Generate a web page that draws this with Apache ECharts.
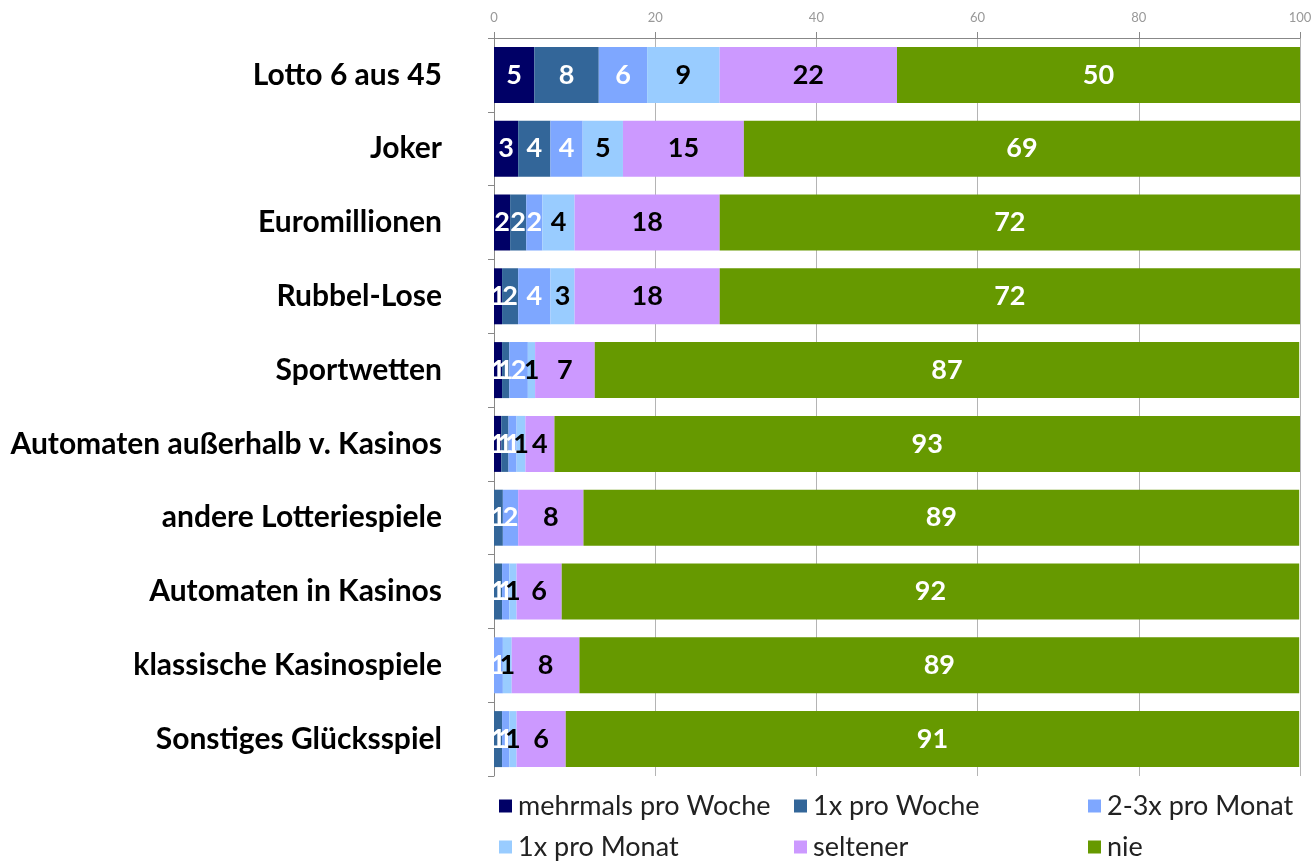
<!DOCTYPE html>
<html>
<head>
<meta charset="utf-8">
<script src="https://cdn.jsdelivr.net/npm/echarts@6/dist/echarts.min.js"></script>
<style>
  html, body { margin: 0; padding: 0; background: #fff; }
  #chart { width: 1316px; height: 862px; }
</style>
</head>
<body>
<div id="chart"></div>
<script>
// Kategorien von oben nach unten
var categories = ['Lotto 6 aus 45', 'Joker', 'Euromillionen', 'Rubbel-Lose', 'Sportwetten',
    'Automaten außerhalb v. Kasinos', 'andere Lotteriespiele', 'Automaten in Kasinos',
    'klassische Kasinospiele', 'Sonstiges Glücksspiel'];

// Anteile in Prozent, aus dem Bild geschätzt
var mehrmalsProWoche = [5, 3, 2, 1, 1.0, 0.9, 0, 0, 0, 0];
var einmalProWoche   = [8, 4, 2, 2, 0.9, 0.9, 1.1, 1.0, 0, 1.0];
var zweiDreiProMonat = [6, 4, 2, 4, 2.3, 1.0, 1.9, 0.9, 1.1, 0.9];
var einmalProMonat   = [9, 5, 4, 3, 0.9, 1.1, 0, 0.9, 1.1, 0.9];
var seltener         = [22, 15, 18, 18, 7.4, 3.6, 8.1, 5.6, 8.4, 6.1];
var nie              = [50, 69, 72, 72, 87.4, 92.5, 88.8, 91.5, 89.3, 91.0];

var xTicks = [0, 20, 40, 60, 80, 100];

var font = 'Lato, "Open Sans", sans-serif';

var seriesDefs = [
    { name: 'mehrmals pro Woche', data: mehrmalsProWoche, color: '#000066', text: '#fff' },
    { name: '1x pro Woche', data: einmalProWoche, color: '#336699', text: '#fff' },
    { name: '2-3x pro Monat', data: zweiDreiProMonat, color: '#7EA7FF', text: '#fff' },
    { name: '1x pro Monat', data: einmalProMonat, color: '#99CCFF', text: '#000' },
    { name: 'seltener', data: seltener, color: '#CC99FF', text: '#000' },
    { name: 'nie', data: nie, color: '#669900', text: '#fff' }
];

var chart = echarts.init(document.getElementById('chart'));

var series = seriesDefs.map(function (s) {
    return {
        name: s.name,
        type: 'bar',
        stack: 'total',
        barWidth: 56,
        itemStyle: { color: s.color },
        label: {
            show: true,
            position: 'inside',
            color: s.text,
            fontFamily: font,
            fontWeight: 'bold',
            fontSize: 27,
            formatter: function (p) {
                return p.value > 0 ? Math.round(p.value) : '';
            }
        },
        emphasis: { disabled: true },
        data: s.data
    };
});

// drei Spalten mit je zwei Einträgen
function legendColumn(left, names) {
    return {
        orient: 'vertical',
        left: left,
        top: 792,
        padding: 0,
        itemWidth: 13,
        itemHeight: 13,
        itemGap: 13,
        icon: 'rect',
        textStyle: { fontFamily: font, fontSize: 27, lineHeight: 28, color: '#222', padding: [0, 0, 0, 1] },
        data: names
    };
}

var option = {
    animation: false,
    grid: { left: 494, right: 16, top: 38, bottom: 86 },
    legend: [
        legendColumn(499, ['mehrmals pro Woche', '1x pro Monat']),
        legendColumn(794, ['1x pro Woche', 'seltener']),
        legendColumn(1088, ['2-3x pro Monat', 'nie'])
    ],
    xAxis: {
        type: 'value',
        position: 'top',
        min: xTicks[0],
        max: xTicks[xTicks.length - 1],
        interval: 20,
        axisLine: { show: true, lineStyle: { color: '#888' } },
        axisTick: { show: true, length: 6, lineStyle: { color: '#888' } },
        axisLabel: { color: '#999', fontFamily: font, fontSize: 13, margin: 14 },
        splitLine: { show: true, lineStyle: { color: '#b4b4b4' } }
    },
    yAxis: {
        type: 'category',
        inverse: true,
        data: categories,
        axisLine: { show: true, lineStyle: { color: '#888' } },
        axisTick: { show: true, length: 6, lineStyle: { color: '#888' } },
        axisLabel: { color: '#000', fontFamily: font, fontWeight: 'bold', fontSize: 30, margin: 52 }
    },
    series: series
};

option && chart.setOption(option);
</script>
</body>
</html>
